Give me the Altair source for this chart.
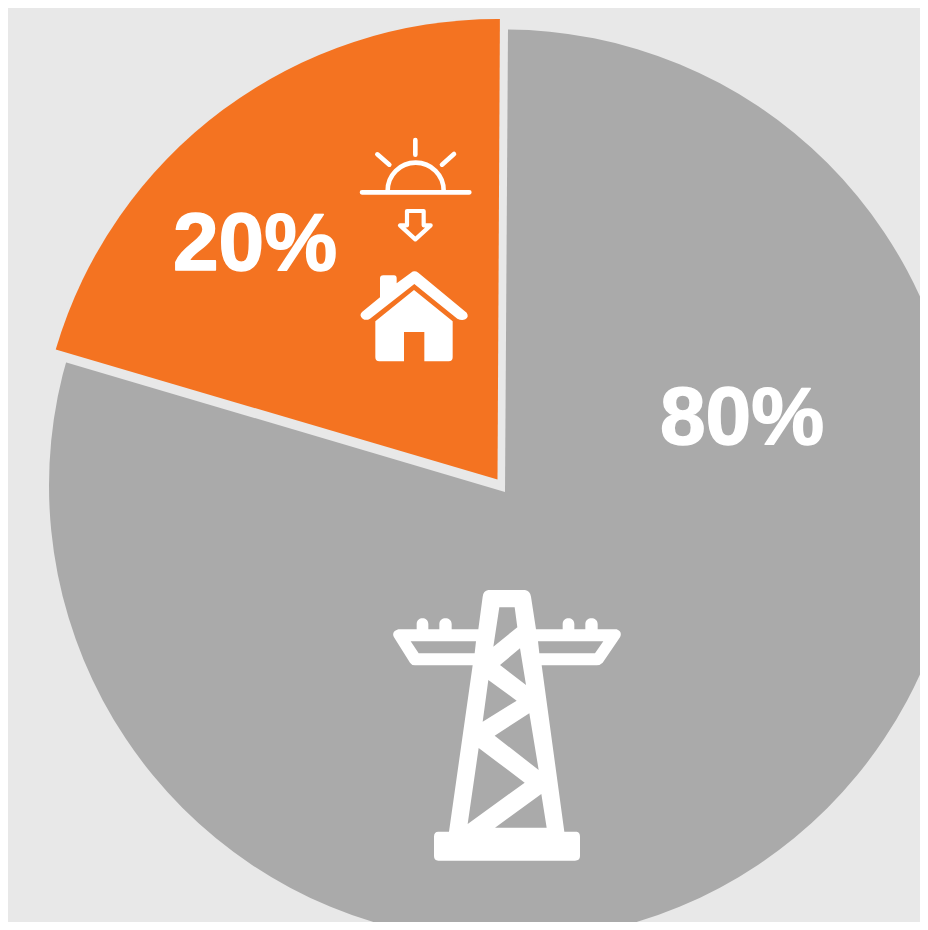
import altair as alt
import pandas as pd

# Values
segments = ["Grid", "Gap", "Solar"]
start_deg = [0.0, 286.46, 286.4]
end_deg = [360.0, 360.37, 360.3]
labels = ["80%", "", "20%"]

GRAY = "#AAAAAA"
ORANGE = "#F47321"
BG = "#E8E8E8"
WHITE = "#FFFFFF"
MARGIN = 8
FONT = "Liberation Sans"

TOWER = (
    "M325 30 L435 30 Q450 32 453 50 L468 148 L548 148 L548 132 C548 109 583 109 583 132 L583 148 "
    "L616 148 L616 132 C616 109 653 109 653 132 L653 148 L710 148 Q728 155 720 172 L668 248 Q660 256 650 256 "
    "L485 256 L553 755 L590 755 Q600 757 600 770 L600 828 Q600 842 585 842 L175 842 Q162 842 162 828 "
    "L162 770 Q162 755 175 755 L207 755 L278 256 L105 256 Q95 256 90 248 L42 172 Q33 155 55 148 "
    "L110 148 L110 132 C110 109 145 109 145 132 L145 148 L178 148 L178 132 C178 109 215 109 215 132 L215 148 L295 148 "
    "L308 50 Q310 32 325 30 Z "
    "M358 82 L340 200 L412 142 L404 82 Z "
    "M92 184 L116 220 L284 220 L288 184 Z "
    "M474 184 L478 220 L645 220 L670 184 Z "
    "M420 205 L360 255 L438 315 Z "
    "M325 300 L308 425 L410 362 Z "
    "M448 400 L344 467 L476 570 Z "
    "M296 504 L263 732 L434 608 Z "
    "M484 642 L345 743 L500 743 Z"
)
HOUSE = (
    "M213 458 Q223 450 235 458 L380 578 Q388 590 376 598 Q365 603 352 596 L223 492 L90 596 "
    "Q78 603 68 596 Q56 586 66 576 L120 532 L120 475 Q120 466 130 466 L162 466 Q170 466 170 475 L170 490 Z "
    "M222 510 L338 604 L338 712 Q338 724 326 724 L253 724 L253 636 L192 636 L192 724 L118 724 "
    "Q106 724 106 712 L106 604 Z"
)
SUN = (
    "M66 217 L388 217 M143 212 C143 166 180 128 227 128 C274 128 311 166 311 212 "
    "M226 60 L226 104 M112 103 L148 134 M342 102 L306 134"
)
ARROW = "M201 273 L251 273 L251 316 L272 316 L226 358 L180 316 L201 316 Z"

df = pd.DataFrame({"segment": segments, "start": start_deg, "end": end_deg, "label": labels})
theta_scale = alt.Scale(domain=[0, 360], range=[0, 6.283185307])


def wedge(name, color, cx, cy, r):
    return (
        alt.Chart(df)
        .transform_filter(alt.datum.segment == name)
        .mark_arc(color=color, radius=r, x=cx - MARGIN, y=cy - MARGIN)
        .encode(
            theta=alt.Theta("start:Q", scale=theta_scale, stack=None),
            theta2="end:Q",
        )
    )


def label(name, x, y):
    return (
        alt.Chart(df)
        .transform_filter(alt.datum.segment == name)
        .mark_text(
            x=x - MARGIN, y=y - MARGIN, align="left", baseline="alphabetic",
            font=FONT, fontWeight="bold", fontSize=82, color=WHITE,
            stroke=WHITE, strokeWidth=1.5, strokeJoin="round",
        )
        .encode(text="label:N")
    )


def icon(shape, ox, oy, filled=True, width=0):
    # Icon outlines are drawn at 3x, so a symbol size of 4/9 maps them to 1/3 scale.
    args = dict(fill=WHITE, fillOpacity=1, strokeWidth=0) if filled else dict(
        stroke=WHITE, strokeWidth=width, strokeCap="round", strokeJoin="round", fillOpacity=0
    )
    return (
        alt.Chart(df.head(1))
        .mark_point(shape=shape, size=4 / 9, x=ox - MARGIN, y=oy - MARGIN, filled=filled, opacity=1, **args)
        .encode(detail="segment:N")
    )


chart = alt.layer(
    wedge("Grid", GRAY, 505, 485.5, 456),
    wedge("Gap", BG, 505, 492, 475),
    wedge("Solar", ORANGE, 497.5, 479.5, 460.5),
    label("Solar", 173, 270),
    label("Grid", 660, 444),
    icon(TOWER, 380, 580),
    icon(HOUSE, 340, 120),
    icon(SUN, 340, 120, filled=False, width=4.6),
    icon(ARROW, 340, 120, filled=False, width=4.2),
).properties(
    width=912,
    height=914,
    background=BG,
    padding=0,
    autosize=alt.AutoSizeParams(type="none"),
).configure_view(stroke=None)

chart.save("out.html", embed_options={"renderer": "svg", "actions": False})
